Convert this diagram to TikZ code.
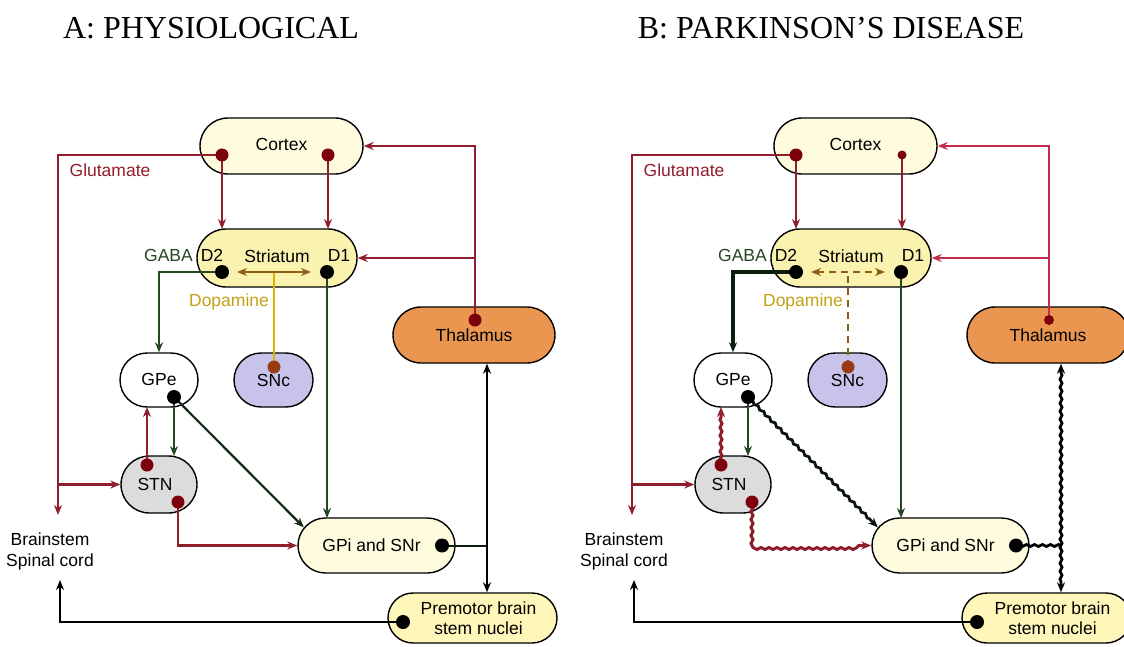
\documentclass[tikz,border=0pt]{standalone}
\usepackage{fontspec}
\setmainfont{Liberation Serif}
\setsansfont{Liberation Sans}
\usepackage{tikz}
\usetikzlibrary{arrows,arrows.meta,shapes,positioning,decorations.pathmorphing}
\definecolor{bgred}{RGB}{145,30,45}
\definecolor{bgpink}{RGB}{195,45,75}
\definecolor{bgdotred}{RGB}{125,0,15}
\definecolor{bggreen}{RGB}{35,70,35}
\definecolor{bggold}{RGB}{195,160,20}
\definecolor{bgyellow}{RGB}{215,180,0}
\definecolor{bgbrown}{RGB}{140,95,20}
\definecolor{bgdadot}{RGB}{150,60,20}
\definecolor{bgcream}{RGB}{255,251,222}
\definecolor{bgstriatum}{RGB}{250,242,175}
\definecolor{bgpremotor}{RGB}{255,246,185}
\definecolor{bgthal}{RGB}{235,150,80}
\definecolor{bgsnc}{RGB}{200,195,235}
\definecolor{bgstn}{RGB}{220,220,220}
\tikzstyle{nucleus} = [rounded rectangle, draw=black, line width=1.4pt, inner sep=0pt, font=\sffamily\fontsize{17.5}{20}\selectfont]
\tikzstyle{lbl} = [inner sep=0pt, font=\sffamily\fontsize{17.5}{21}\selectfont]
\tikzstyle{title} = [inner sep=0pt, font=\rmfamily\fontsize{32}{36}\selectfont]
\tikzstyle{rdot} = [circle, fill=bgdotred, inner sep=0pt, minimum size=13pt]
\tikzstyle{kdot} = [circle, fill=black, inner sep=0pt, minimum size=14pt]
\tikzstyle{glu} = [line width=2.2pt, ->, >={Stealth[length=10pt,width=8pt]}, color=bgred]
\tikzstyle{gaba} = [line width=2.2pt, ->, >={Stealth[length=10pt,width=8pt]}, color=bggreen]
\tikzstyle{blk} = [line width=2.2pt, ->, >={Stealth[length=10pt,width=8pt]}, color=black]
\tikzstyle{wavy} = [decorate, decoration={snake, amplitude=1pt, segment length=8pt, pre length=3pt, post length=9pt}]

\begin{document}
\begin{tikzpicture}[x=1pt, y=-1pt]
    \useasboundingbox (0,0) rectangle (1124,647);

    % Titles
    \node[title] (aTitle) at (211,28) {A: PHYSIOLOGICAL};
    \node[title] (bTitle) at (831,28) {B: PARKINSON’S DISEASE};

    %%%%%%%%%%%%%%%% A: physiological %%%%%%%%%%%%%%%%
    % Nuclei
    \node[nucleus, fill=bgcream, minimum width=163pt, minimum height=56pt] (aCortex) at (281.5,146) {\raisebox{3pt}{Cortex}};
    \node[nucleus, fill=bgstriatum, minimum width=160pt, minimum height=58pt] (aStr) at (277,258) {\raisebox{3pt}{Striatum}};
    \node[nucleus, fill=bgthal, minimum width=162pt, minimum height=56pt] (aThal) at (474,335) {\raisebox{-3pt}{Thalamus}};
    \node[nucleus, fill=white, minimum width=78pt, minimum height=54pt] (aGPe) at (159,380) {\raisebox{2pt}{GPe}};
    \node[nucleus, fill=bgsnc, minimum width=79pt, minimum height=54pt] (aSNc) at (273.5,380) {\raisebox{-7pt}{SNc}};
    \node[nucleus, fill=bgstn, minimum width=76pt, minimum height=57pt] (aSTN) at (159,484.5) {\hspace*{-8pt}STN};
    \node[nucleus, fill=bgcream, minimum width=157pt, minimum height=55pt] (aGPi) at (376.5,545.5) {\hspace*{-10pt}GPi and SNr};
    \node[nucleus, fill=bgpremotor, minimum width=169pt, minimum height=50pt, align=center] (aPrem) at (472.5,618) {\hspace*{12pt}Premotor brain\\\hspace*{12pt}stem nuclei};

    % Labels
    \node[lbl] (aD2) at (212,255) {D2};
    \node[lbl] (aD1) at (339,255) {D1};
    \node[lbl, anchor=east, text=bggreen] (aGaba) at (193,255) {GABA};
    \node[lbl, text=bggold] (aDopa) at (229,302) {Dopamine};
    \node[lbl, text=bgred] (aGlu) at (110,170) {Glutamate};
    \node[lbl, align=center] (aBs) at (50,551) {Brainstem\\Spinal cord};

    % Coordinates
    \coordinate (aBsTop) at (58,515);
    \coordinate (aBsBot) at (60,580);
    \coordinate (aStnIn) at (58,484.5);
    \coordinate (aDaL) at (237,272);
    \coordinate (aDaR) at (311,272);
    \coordinate (aJ) at (487,545.5);

    % Connections
    \draw[glu] (222,155) -| (aBsTop);
    \draw[glu] (aStnIn) -- (aSTN.west);
    \draw[bgyellow, line width=2pt] (274,367) -- (274,272);
    \draw[bgbrown, line width=2pt, <->, >={Stealth[length=10pt,width=8pt]}] (aDaL) -- (aDaR);
    \draw[glu] (475,320) |- (aCortex.east);
    \draw[glu] (475,258) -- (aStr.east);
    \draw[gaba] (222,272) -| (aGPe.north);
    \draw[gaba] (327,272) -- (327,518);
    \draw[gaba] (174,397) -- (174,456);
    \draw[glu] (147,465) -- (147,407);
    \draw[blk, color=bggreen!60!black] (174,397) -- (aGPi.166);
    \draw[glu] (178,502) |- (aGPi.west);
    \draw[line width=2pt, color=bggreen!40!black] (442,545.5) -- (aJ);
    \draw[blk, <->] (aThal.south -| aJ) -- (aPrem.north -| aJ);
    \draw[blk] (403,622) -| (aBsBot);
    \draw[glu] (222,155) -- (222,229);
    \draw[glu] (328,155) -- (328,229);

    % Dots
    \node[rdot] (aCxL) at (222,155) {};
    \node[rdot] (aCxR) at (328,155) {};
    \node[kdot] (aD2dot) at (222,272) {};
    \node[kdot] (aD1dot) at (327,272) {};
    \node[rdot] (aThDot) at (475,320) {};
    \node[rdot, fill=bgdadot] (aSNcDot) at (274,367) {};
    \node[kdot] (aGPeDot) at (174,397) {};
    \node[rdot] (aStnDotT) at (147,465) {};
    \node[rdot] (aStnDotR) at (178,502) {};
    \node[kdot] (aGPiDot) at (442,545.5) {};
    \node[kdot] (aPmDot) at (403,622) {};

    %%%%%%%%%%%%%%%% B: Parkinson's disease %%%%%%%%%%%%%%%%
    \begin{scope}[xshift=574pt]
    % Nuclei
    \node[nucleus, fill=bgcream, minimum width=163pt, minimum height=56pt] (bCortex) at (281.5,146) {\raisebox{3pt}{Cortex}};
    \node[nucleus, fill=bgstriatum, minimum width=160pt, minimum height=58pt] (bStr) at (277,258) {\raisebox{3pt}{Striatum}};
    \node[nucleus, fill=bgthal, minimum width=162pt, minimum height=56pt] (bThal) at (474,335) {\raisebox{-3pt}{Thalamus}};
    \node[nucleus, fill=white, minimum width=78pt, minimum height=54pt] (bGPe) at (159,380) {\raisebox{2pt}{GPe}};
    \node[nucleus, fill=bgsnc, minimum width=79pt, minimum height=54pt] (bSNc) at (273.5,380) {\raisebox{-7pt}{SNc}};
    \node[nucleus, fill=bgstn, minimum width=76pt, minimum height=57pt] (bSTN) at (159,484.5) {\hspace*{-8pt}STN};
    \node[nucleus, fill=bgcream, minimum width=157pt, minimum height=55pt] (bGPi) at (376.5,545.5) {\hspace*{-10pt}GPi and SNr};
    \node[nucleus, fill=bgpremotor, minimum width=169pt, minimum height=50pt, align=center] (bPrem) at (472.5,618) {\hspace*{12pt}Premotor brain\\\hspace*{12pt}stem nuclei};

    % Labels
    \node[lbl] (bD2) at (212,255) {D2};
    \node[lbl] (bD1) at (339,255) {D1};
    \node[lbl, anchor=east, text=bggreen] (bGaba) at (193,255) {GABA};
    \node[lbl, text=bggold] (bDopa) at (229,302) {Dopamine};
    \node[lbl, text=bgred] (bGlu) at (110,170) {Glutamate};
    \node[lbl, align=center] (bBs) at (50,551) {Brainstem\\Spinal cord};

    % Coordinates
    \coordinate (bBsTop) at (58,515);
    \coordinate (bBsBot) at (60,580);
    \coordinate (bStnIn) at (58,484.5);
    \coordinate (bDaL) at (237,272);
    \coordinate (bDaR) at (311,272);
    \coordinate (bJ) at (487,545.5);

    % Connections
    \draw[glu] (222,155) -| (bBsTop);
    \draw[glu] (bStnIn) -- (bSTN.west);
    \draw[bgbrown, line width=2pt, dash pattern=on 7pt off 5pt] (274,367) -- (274,272);
    \draw[bgbrown, line width=2pt, dash pattern=on 7pt off 5pt, <->, >={Stealth[length=10pt,width=8pt]}] (bDaL) -- (bDaR);
    \draw[glu, line width=1.2pt, color=bgpink] (475,320) |- (bCortex.east);
    \draw[glu, line width=1.2pt, color=bgpink] (475,258) -- (bStr.east);
    \draw[blk, line width=3.4pt, color=bggreen!40!black] (222,272) -| (bGPe.north);
    \draw[gaba, line width=1.2pt] (327,272) -- (327,518);
    \draw[gaba, line width=1.2pt] (174,397) -- (174,456);
    \draw[glu, line width=3pt, wavy] (147,465) -- (147,407);
    \draw[blk, line width=2.8pt, color=bggreen!30!black, wavy] (174,397) -- (bGPi.166);
    \draw[glu, line width=3pt, wavy] (178,502) |- (bGPi.west);
    \draw[line width=2.8pt, decorate, decoration={snake, amplitude=1pt, segment length=8pt}] (442,545.5) -- (bJ);
    \draw[blk, line width=2.8pt, <->, wavy, decoration={pre length=9pt}] (bThal.south -| bJ) -- (bPrem.north -| bJ);
    \draw[blk] (403,622) -| (bBsBot);
    \draw[glu] (222,155) -- (222,229);
    \draw[glu, line width=1.2pt] (328,155) -- (328,229);

    % Dots
    \node[rdot] (bCxL) at (222,155) {};
    \node[rdot, minimum size=9pt] (bCxR) at (328,155) {};
    \node[kdot] (bD2dot) at (222,272) {};
    \node[kdot] (bD1dot) at (327,272) {};
    \node[rdot, minimum size=10pt] (bThDot) at (475,320) {};
    \node[rdot, fill=bgdadot] (bSNcDot) at (274,367) {};
    \node[kdot] (bGPeDot) at (174,397) {};
    \node[rdot] (bStnDotT) at (147,465) {};
    \node[rdot] (bStnDotR) at (178,502) {};
    \node[kdot] (bGPiDot) at (442,545.5) {};
    \node[kdot] (bPmDot) at (403,622) {};
    \end{scope}
\end{tikzpicture}
\end{document}
